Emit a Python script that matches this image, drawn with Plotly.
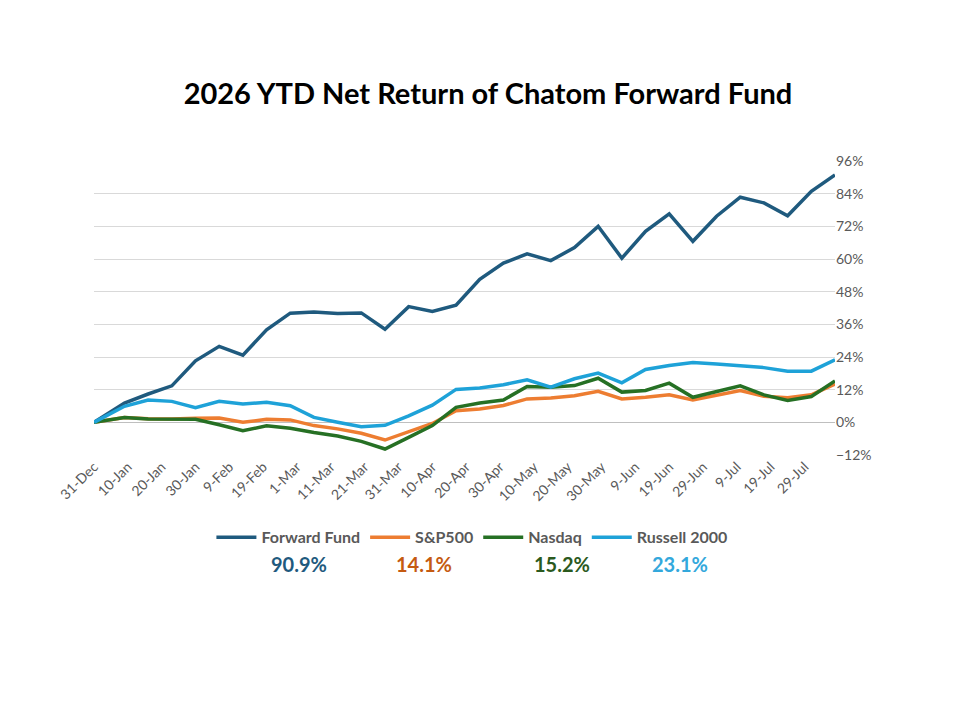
import plotly.graph_objects as go
import pandas as pd

# weekly dates: 31-Dec then Fridays to 7-Aug
dates = ["2025-12-31"] + [d.strftime("%Y-%m-%d") for d in pd.date_range("2026-01-09", "2026-08-07", freq="7D")]

forward_fund = [0, 7.1, 10.4, 13.4, 22.6, 27.9, 24.7, 34.0, 40.1, 40.5, 40.0, 40.2, 34.2, 42.5, 40.7, 43.0,
                52.5, 58.5, 61.9, 59.4, 64.2, 72.0, 60.3, 70.2, 76.6, 66.5, 75.7, 82.7, 80.6, 75.9, 84.9, 90.9]
sp500 = [0, 1.8, 1.3, 1.2, 1.5, 1.6, 0.0, 1.1, 0.9, -1.2, -2.4, -4.0, -6.5, -3.4, -0.4, 4.3,
         4.9, 6.2, 8.6, 8.9, 9.8, 11.4, 8.6, 9.2, 10.1, 8.2, 10.1, 11.7, 9.6, 9.0, 10.1, 14.1]
nasdaq = [0, 1.8, 1.2, 1.1, 1.1, -0.9, -3.1, -1.3, -2.2, -3.7, -5.0, -7.0, -9.8, -5.5, -1.2, 5.5,
          7.1, 8.2, 13.2, 12.9, 13.5, 16.2, 11.1, 11.7, 14.4, 9.2, 11.4, 13.4, 10.1, 8.0, 9.5, 15.2]
russell = [0, 5.9, 8.2, 7.7, 5.4, 7.7, 6.7, 7.4, 6.1, 1.8, 0.0, -1.6, -1.1, 2.4, 6.3, 12.1,
           12.6, 13.8, 15.6, 12.9, 16.0, 18.1, 14.5, 19.4, 20.9, 22.0, 21.4, 20.7, 20.1, 18.8, 18.8, 23.0]

series = [("Forward Fund", forward_fund, "#1f5a7e", "90.9%", "#1f5a7e", 268),
          ("S&P500", sp500, "#ed7d31", "14.1%", "#c55a11", 423),
          ("Nasdaq", nasdaq, "#267024", "15.2%", "#2b5a1e", 561),
          ("Russell 2000", russell, "#1ea2d8", "23.1%", "#33a8dc", 709)]

fig = go.Figure()
for name, vals, col, ret, rcol, px in series:
    fig.add_trace(go.Scatter(x=dates, y=vals, mode="lines", name="<b>" + name + "</b>",
                             line=dict(color=col, width=3.5)))
    fig.add_annotation(text="<b>" + ret + "</b>", x=(px - 93) / 741, y=-0.42,
                       xref="paper", yref="paper", showarrow=False,
                       font=dict(size=20, color=rcol, family="Lato"))

fig.update_layout(
    width=960, height=720,
    paper_bgcolor="white", plot_bgcolor="white",
    margin=dict(l=86, r=133, t=153, b=273),
    title=dict(text="<b>2026 YTD Net Return of Chatom Forward Fund</b>", x=0.5, xanchor="center",
               y=0.895, font=dict(size=29, color="black", family="Lato")),
    legend=dict(orientation="h", x=0.51, xanchor="center", y=-0.28, yanchor="middle",
                font=dict(size=16, color="#595959", family="Lato"), itemwidth=40),
    showlegend=True,
)
fig.update_xaxes(type="date", tick0="2025-12-31", dtick=10 * 86400000, tickformat="%-d-%b",
                 tickangle=-45, tickfont=dict(size=14, color="#595959", family="Lato"),
                 showgrid=False, range=["2025-12-31", "2026-08-07"], ticks="")
fig.update_yaxes(side="right", range=[-12, 96], dtick=12, ticksuffix="%",
                 tickfont=dict(size=14, color="#595959", family="Lato"),
                 gridcolor="#d9d9d9", zeroline=True, zerolinecolor="#bfbfbf", zerolinewidth=1)

fig.write_html("out.html")
